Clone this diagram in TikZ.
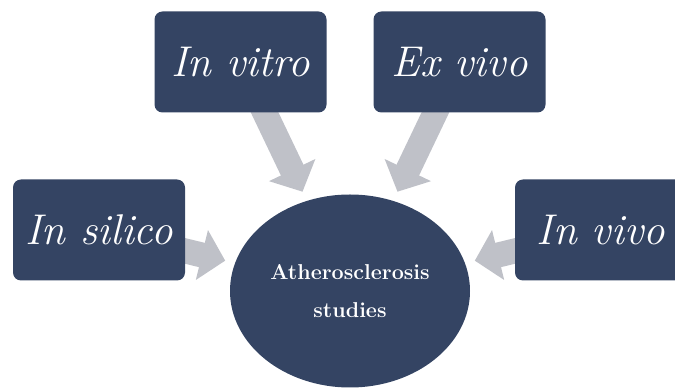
\documentclass[tikz,border=0pt]{standalone}
\usepackage{tikz}
\usetikzlibrary{arrows.meta,shapes.geometric,backgrounds}
\definecolor{studynavy}{RGB}{52,68,99}
\definecolor{feedgray}{RGB}{191,193,200}
\tikzset{method/.style={fill=studynavy,text=white,rounded corners=8pt,
 minimum width=172pt,minimum height=101pt,inner sep=0pt,
 font=\itshape\fontsize{43}{50}\selectfont},
 target/.style={ellipse,fill=studynavy,text=white,minimum width=240pt,
 minimum height=193pt,inner sep=0pt,align=center,
 font=\bfseries\fontsize{21.5}{38}\selectfont},
 feed/.style={draw=feedgray,line width=25pt,
 -{Triangle[width=50pt,length=24pt]},shorten >=10pt}}

\begin{document}
\begin{tikzpicture}[x=1pt,y=1pt]
\clip (0,0) rectangle (675,388);
\node[method] (vitro) at (240.5,326) {In vitro};
\node[method] (exvivo) at (459.5,326) {Ex vivo};
\node[method] (silico) at (99,158) {In silico};
\node[method] (invivo) at (601,158) {In vivo};
\node[target] (ath) at (350,97) {Atherosclerosis\\studies};
\begin{scope}[on background layer]
\foreach \source in {vitro,exvivo,silico,invivo}
  \draw[feed] (\source.center) -- (ath);
\end{scope}
\end{tikzpicture}
\end{document}
